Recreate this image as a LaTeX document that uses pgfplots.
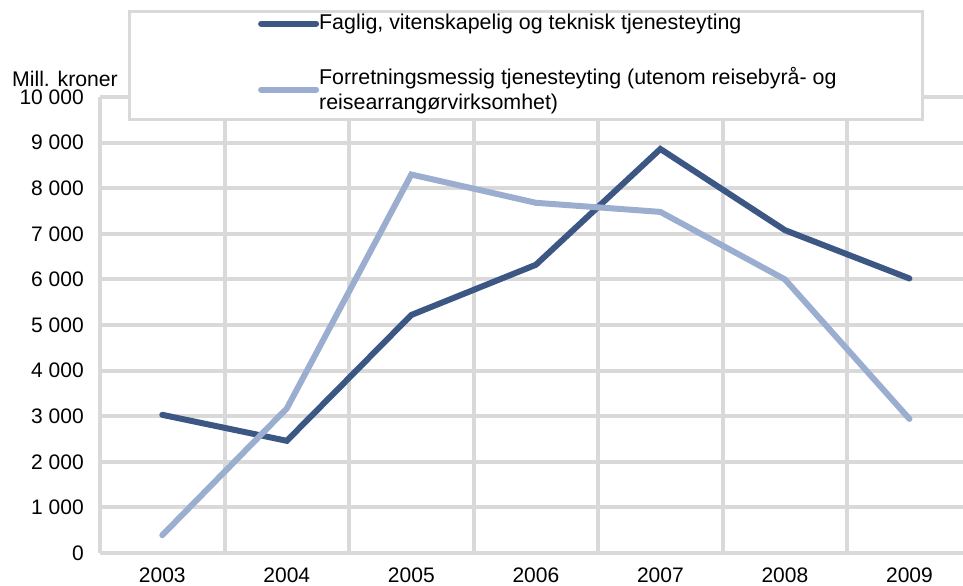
\documentclass[border=0pt]{standalone}
\usepackage{pgfplots}
\pgfplotsset{compat=1.18}
\usepackage{fontspec}
\setmainfont{Liberation Sans}
\definecolor{gridgray}{RGB}{217,217,217}
\definecolor{darkblue}{RGB}{61,87,132}
\definecolor{lightblue}{RGB}{155,174,208}
\begin{document}
\fontsize{21.2bp}{25bp}\selectfont
\begin{tikzpicture}
\begin{axis}[
  at={(0,0)}, anchor=south west,
  scale only axis, width=863bp, height=456bp,
  xmin=-0.5, xmax=6.43, ymin=0, ymax=10000,
  clip=false,
  scaled y ticks=false,
  axis x line*=bottom, axis y line*=left,
  axis line style={gridgray, line width=4bp, -},
  xtick={0,1,2,3,4,5,6},
  xticklabels={2003,2004,2005,2006,2007,2008,2009},
  minor xtick={0.5,1.5,2.5,3.5,4.5,5.5},
  xminorgrids, ymajorgrids,
  major tick length=0pt, minor tick length=0pt,
  grid style={gridgray, line width=4bp},
  minor grid style={gridgray, line width=4bp},
  ytick={0,1000,2000,3000,4000,5000,6000,7000,8000,9000,10000},
  yticklabels={0,1 000,2 000,3 000,4 000,5 000,6 000,7 000,8 000,9 000,10 000},
  /pgf/number format/assume math mode=true,
  tick label style={font=\fontsize{21bp}{24bp}\selectfont},
  yticklabel style={anchor=east, inner sep=0pt, xshift=-16bp},
  xticklabel style={anchor=north, inner sep=0pt, yshift=-15bp},
  legend style={at={(rel axis cs:0.183,1.182)}, anchor=north west,
    draw=none, fill=none, inner sep=0pt, row sep=34bp,
    nodes={inner sep=0pt},
    font=\fontsize{21.4bp}{25bp}\selectfont,
    cells={anchor=west, align=left}},
  legend image code/.code={\draw[#1, line cap=round] (3bp,0bp) -- (54bp,0bp); \path (0bp,0bp) -- (55bp,0bp);},
]
\addplot[darkblue, line width=6bp, line cap=round, line join=miter] coordinates {
  (0,3030) (1,2460) (2,5220) (3,6320) (4,8860) (5,7080) (6,6020)};
\addlegendentry{Faglig, vitenskapelig og teknisk tjenesteyting}
\addplot[lightblue, line width=6bp, line cap=round, line join=miter] coordinates {
  (0,390) (1,3170) (2,8300) (3,7680) (4,7480) (5,6000) (6,2940)};
\addlegendentry{Forretningsmessig tjenesteyting (utenom reisebyrå- og\\reisearrangørvirksomhet)}
\draw[gridgray, line width=3bp, fill=white] (rel axis cs:0.03476,0.9496) rectangle (rel axis cs:0.9525,1.1864);
\node[anchor=base west, inner sep=0pt, font=\fontsize{21.2bp}{24bp}\selectfont] at (rel axis cs:-0.10197,1.0241) {Mill. kroner};
\end{axis}
\pgfresetboundingbox
\useasboundingbox (-100bp,-33bp) rectangle (863bp,553bp);
\end{tikzpicture}
\end{document}
